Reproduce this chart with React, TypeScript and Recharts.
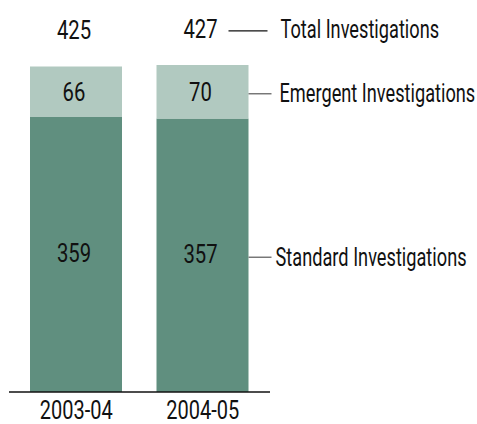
import React from 'react';
import { BarChart, Bar, XAxis, YAxis, LabelList } from 'recharts';

const categories = ['2003-04', '2004-05'];
const standardValues = [359, 357];
const emergentValues = [66, 70];
const totalValues = [425, 427];
const seriesNames = ['Standard Investigations', 'Emergent Investigations', 'Total Investigations'];

const data = categories.map((c, i) => ({
  cat: c,
  standard: standardValues[i],
  emergent: emergentValues[i],
  total: totalValues[i],
}));

const FONT = 'Roboto, "Liberation Sans", sans-serif';
const FS = 26;
const TEXT = '#111';
const NUM_SX = 0.78;
const NAME_SX = 0.7;
const last = categories.length - 1;

const CText = ({ x, y, sx, anchor, children, fs = FS }: any) => (
  <text
    transform={`translate(${x},${y}) scale(${sx},1)`}
    x={0}
    y={0}
    textAnchor={anchor}
    dominantBaseline="central"
    fontFamily={FONT}
    fontSize={fs}
    fill={TEXT}
  >
    {children}
  </text>
);

const SegmentLabel = (name: string, dy: number, nameGap: number) => (props: any) => {
  const { x, y, width, height, value, index } = props;
  const cx = x + width / 2 - 2;
  const cy = y + height / 2;
  return (
    <g>
      <CText x={cx} y={cy + dy} sx={NUM_SX} anchor="middle">{value}</CText>
      {index === last && (
        <g>
          <line x1={x + width} x2={x + width + 23} y1={cy + 2} y2={cy + 2} stroke="#777" strokeWidth={1.5} />
          <CText x={x + width + nameGap} y={cy + 1} sx={NAME_SX} anchor="start">{name}</CText>
        </g>
      )}
    </g>
  );
};

const TotalLabel = (props: any) => {
  const { x, y, width, value, index } = props;
  const cx = x + width / 2 - 2;
  const ty = y - 36;
  return (
    <g>
      <CText x={cx} y={ty} sx={NUM_SX} anchor="middle">{value}</CText>
      {index === last && (
        <g>
          <line x1={x + width - 20} x2={x + width + 19} y1={ty + 2} y2={ty + 2} stroke="#111" strokeWidth={1.2} />
          <CText x={x + width + 32} y={ty} sx={NAME_SX} anchor="start">{seriesNames[2]}</CText>
        </g>
      )}
    </g>
  );
};

const Tick = (props: any) => {
  const { x, y, payload } = props;
  return <CText x={x} y={y + 9} sx={0.8} fs={25} anchor="middle">{payload.value}</CText>;
};

export default function App() {
  return (
    <div style={{ position: 'absolute', left: 0, top: 0, width: 477, height: 424, background: '#fff' }}>
      <BarChart
        width={477}
        height={424}
        data={data}
        margin={{ top: 9, right: 207, bottom: 0, left: 9 }}
        barCategoryGap={0}
      >
        <XAxis
          dataKey="cat"
          axisLine={{ stroke: '#111', strokeWidth: 1.5 }}
          tickLine={false}
          height={32}
          padding={{ left: 4, right: 4 }}
          tick={Tick}
          tickMargin={4}
          interval={0}
        />
        <YAxis hide domain={[0, 500]} />
        <Bar dataKey="standard" stackId="a" fill="#608f7f" barSize={92} isAnimationActive={false}>
          <LabelList dataKey="standard" content={SegmentLabel(seriesNames[0], -1, 27)} />
        </Bar>
        <Bar dataKey="emergent" stackId="a" fill="#b1c9c0" barSize={92} isAnimationActive={false}>
          <LabelList dataKey="emergent" content={SegmentLabel(seriesNames[1], 0, 31)} />
          <LabelList dataKey="total" content={TotalLabel} />
        </Bar>
      </BarChart>
    </div>
  );
}
